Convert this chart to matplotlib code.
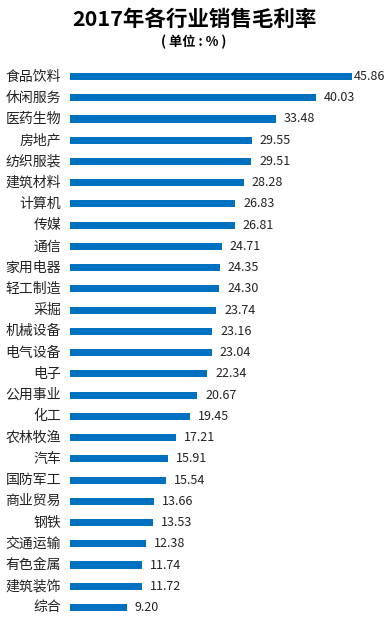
import matplotlib
matplotlib.use("Agg")
import matplotlib.pyplot as plt

plt.rcParams["font.family"] = ["Noto Sans CJK SC", "DejaVu Sans"]

# Dades del gràfic (de dalt a baix)
industries = ["食品饮料", "休闲服务", "医药生物", "房地产", "纺织服装", "建筑材料",
              "计算机", "传媒", "通信", "家用电器", "轻工制造", "采掘", "机械设备",
              "电气设备", "电子", "公用事业", "化工", "农林牧渔", "汽车", "国防军工",
              "商业贸易", "钢铁", "交通运输", "有色金属", "建筑装饰", "综合"]
margins = [45.86, 40.03, 33.48, 29.55, 29.51, 28.28, 26.83, 26.81, 24.71, 24.35,
           24.30, 23.74, 23.16, 23.04, 22.34, 20.67, 19.45, 17.21, 15.91, 15.54,
           13.66, 13.53, 12.38, 11.74, 11.72, 9.20]

W, H = 388, 620
fig = plt.figure(figsize=(W / 100, H / 100), dpi=100)

n = len(industries)
top_px, bot_px = 76.5 - 10.6, 607.5 + 10.6
ax = fig.add_axes([70 / W, (H - bot_px) / H, 307.5 / W, (bot_px - top_px) / H])

ypos = list(range(n))
ax.barh(ypos, margins, height=0.33, color="#0070C0")
ax.set_xlim(0, 50)
ax.set_ylim(n - 0.5, -0.5)
ax.axis("off")

for y, name in zip(ypos, industries):
    ax.annotate(name, xy=(0, y), xytext=(-9, 0), textcoords="offset pixels",
                ha="right", va="center", fontsize=10, color="#222222")

vmax = max(margins)
for y, v in zip(ypos, margins):
    off = 2 if v == vmax else 8
    ax.annotate(f"{v:.2f}", xy=(v, y), xytext=(off, 0), textcoords="offset pixels",
                ha="left", va="center", fontsize=9, color="#222222")

fig.text(0.5, 1 - 19 / H, "2017年各行业销售毛利率", ha="center", va="center",
         fontsize=15.5, fontweight="bold")
fig.text(0.5, 1 - 42 / H, "( 单位 : % )", ha="center", va="center",
         fontsize=9.5, fontweight="bold")

fig.savefig("out.png", dpi=100)
plt.close(fig)
